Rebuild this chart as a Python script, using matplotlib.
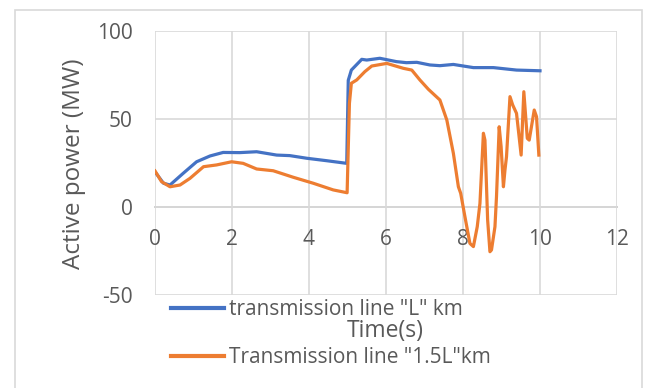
import matplotlib
matplotlib.use("Agg")
import matplotlib.pyplot as plt
from matplotlib.patches import Rectangle

# Active power of the line for the two transmission-line lengths
time_L = [0.0, 0.22, 0.39, 0.73, 1.08, 1.43, 1.77, 2.2, 2.64, 3.16, 3.5, 3.94, 4.46, 4.98,
          5.02, 5.1, 5.37, 5.5, 5.84, 6.27, 6.53, 6.8, 7.14, 7.4, 7.75, 8.27, 8.79, 9.39, 10.0]
power_L = [20.0, 13.5, 12.5, 19.1, 25.7, 29.0, 31.0, 30.9, 31.4, 29.5, 29.2, 27.7, 26.3, 24.8,
           72.0, 77.8, 83.9, 83.5, 84.5, 82.6, 82.0, 82.2, 80.7, 80.3, 81.0, 79.2, 79.2, 77.8, 77.4]

time_15L = [0.0, 0.17, 0.39, 0.65, 0.91, 1.26, 1.6, 1.99, 2.29, 2.64, 3.07, 3.59, 4.11,
            4.63, 4.99, 5.05, 5.1, 5.24, 5.45, 5.63, 6.02, 6.45, 6.67, 6.88, 7.1, 7.4,
            7.58, 7.75, 7.88, 7.94, 8.05, 8.18, 8.27, 8.37, 8.44, 8.53, 8.57, 8.64,
            8.7, 8.74, 8.83, 8.87, 8.94, 8.99, 9.05, 9.09, 9.13, 9.22, 9.29, 9.39,
            9.51, 9.58, 9.67, 9.72, 9.85, 9.91, 9.97]
power_15L = [20.5, 14.4, 11.5, 12.5, 16.3, 22.9, 23.9, 25.7, 24.8, 21.6, 20.6, 16.9, 13.5,
             9.7, 8.1, 58.9, 70.3, 72.2, 76.9, 80.1, 81.6, 78.8, 77.8, 72.2, 66.9, 60.8,
             49.4, 30.5, 11.5, 7.8, -5.5, -20.7, -22.5, -11.2, 2.0, 41.9, 38.0, -7.4,
             -25.4, -24.4, -11.2, 5.9, 45.6, 34.3, 11.5, 21.0, 28.6, 62.7, 58.0, 53.2,
             29.5, 65.5, 39.0, 38.0, 55.1, 51.3, 29.5]

x_ticks = [0, 2, 4, 6, 8, 10, 12]
y_ticks = [-50, 0, 50, 100]

label_L = 'transmission line "L" km'
label_15L = 'Transmission line "1.5L"km'

text_color = "#595959"
plt.rcParams["font.family"] = ["Open Sans", "DejaVu Sans"]
plt.rcParams["axes.unicode_minus"] = False

fig = plt.figure(figsize=(6.48, 3.88), dpi=100)
fig.patches.append(Rectangle((15 / 648, -0.1), (642 - 15) / 648, 1 - 10 / 388 + 0.1,
                             transform=fig.transFigure, fill=False,
                             edgecolor="#d9d9d9", linewidth=1.2))

ax = fig.add_axes([155 / 648, 1 - 295 / 388, (617 - 155) / 648, (295 - 31) / 388])

ax.plot(time_L, power_L, color="#4472C4", linewidth=2.3, label=label_L,
        solid_joinstyle="round")
ax.plot(time_15L, power_15L, color="#ED7D31", linewidth=2.3, label=label_15L,
        solid_joinstyle="round")

ax.set_xlim(0, 12)
ax.set_ylim(-50, 100)
ax.set_xticks(x_ticks)
ax.set_yticks(y_ticks)
ax.grid(True, color="#d9d9d9", linewidth=1.2)
ax.set_axisbelow(True)

for side in ("top", "right", "left"):
    ax.spines[side].set_visible(False)
ax.spines["bottom"].set_position(("data", 0))
ax.spines["bottom"].set_color("#bfbfbf")
ax.spines["bottom"].set_linewidth(1.2)
ax.spines["bottom"].set_zorder(0.5)

ax.tick_params(axis="both", length=0, labelsize=15, labelcolor=text_color)
ax.tick_params(axis="x", pad=16)
ax.tick_params(axis="y", pad=16)

fig.text(74 / 648, 1 - 164 / 388, "Active power (MW)", rotation=90, fontsize=17.5,
         color=text_color, ha="center", va="center")
fig.text(385 / 648, 1 - 331 / 388, "Time(s)", fontsize=16.5, color=text_color,
         ha="center", va="center")

leg = ax.legend(loc="upper left", bbox_to_anchor=(171 / 648, 1 - 299 / 388),
                bbox_transform=fig.transFigure, frameon=False, fontsize=15,
                handlelength=2.55, handletextpad=0.25, labelspacing=1.3,
                borderpad=0, borderaxespad=0)
for t in leg.get_texts():
    t.set_color(text_color)
for h in leg.get_lines():
    h.set_linewidth(3)

fig.savefig("out.png", dpi=100)
